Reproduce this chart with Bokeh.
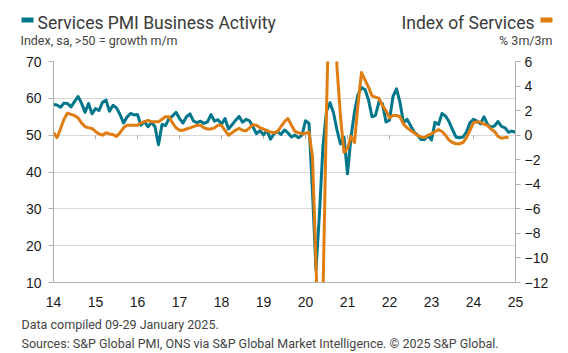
from bokeh.plotting import figure
from bokeh.models import Range1d, LinearAxis, Label, FixedTicker
from bokeh.layouts import column
from bokeh.embed import file_html
from bokeh.resources import INLINE

# Services PMI Business Activity (index), monthly Jan 2014 - Jan 2025
pmi = [
    58.3, 58.2, 57.6, 58.7, 58.6, 57.7, 59.1, 60.5, 58.7, 56.2, 58.6, 55.8,  # 2014
    57.2, 56.7, 58.9, 59.5, 56.5, 58.1, 57.4, 55.6, 53.3, 54.9, 55.9, 55.5,  # 2015
    55.6, 52.7, 53.7, 52.3, 53.5, 52.3, 47.4, 52.9, 52.6, 54.5, 55.2, 56.2,  # 2016
    54.5, 53.3, 55.0, 55.8, 53.8, 53.4, 53.8, 53.2, 53.6, 55.6, 53.8, 54.2,  # 2017
    53.0, 54.5, 51.7, 52.8, 54.0, 55.1, 53.5, 54.3, 53.9, 52.2, 50.4, 51.2,  # 2018
    50.1, 51.3, 48.9, 50.4, 51.0, 50.2, 51.4, 50.6, 49.5, 50.0, 49.3, 50.0,  # 2019
    53.9, 53.2, 34.5, 13.4, 29.0, 47.1, 56.5, 58.8, 56.1, 51.4, 47.6, 49.4,  # 2020
    39.5, 49.5, 56.3, 61.0, 62.9, 62.4, 59.6, 55.0, 55.4, 59.1, 58.5, 53.6,  # 2021
    54.1, 60.5, 62.6, 58.9, 53.4, 54.3, 52.6, 50.9, 50.0, 48.8, 48.8, 49.9,  # 2022
    48.7, 53.5, 52.9, 55.9, 55.2, 53.7, 51.5, 49.5, 49.3, 49.5, 50.9, 53.4,  # 2023
    54.3, 53.8, 53.1, 55.0, 52.9, 52.1, 52.5, 53.7, 52.4, 52.0, 50.8, 51.1,  # 2024
    50.8,                                                                    # 2025
]

# Index of Services, % 3m/3m, monthly Jan 2014 - Nov 2024
ios = [
    0.2, -0.2, 0.5, 1.3, 1.8, 1.7, 1.6, 1.4, 1.0, 0.7, 0.6, 0.55,         # 2014
    0.3, 0.1, 0.0, 0.2, 0.1, 0.05, -0.1, 0.2, 0.6, 0.8, 0.8, 0.8,         # 2015
    0.8, 1.0, 1.1, 1.2, 1.1, 1.1, 1.1, 1.3, 1.5, 1.5, 1.0, 0.6,           # 2016
    0.4, 0.4, 0.5, 0.6, 0.7, 0.8, 0.8, 0.6, 0.5, 0.5, 0.6, 0.8,           # 2017
    0.8, 0.4, 0.0, 0.2, 0.4, 0.55, 0.4, 0.35, 0.6, 0.85, 0.8, 0.6,        # 2018
    0.5, 0.35, 0.26, 0.2, 0.3, 0.7, 1.1, 1.35, 0.8, 0.3, 0.2, 0.1,        # 2019
    0.15, 0.25, -1.8, -10.5, -20.0, -13.0, 2.0, 14.0, 15.0, 5.5, 1.5, -1.4,  # 2020
    -1.1, -0.1, -0.6, 2.5, 5.1, 4.5, 3.9, 3.2, 3.1, 3.0, 2.4, 2.0,        # 2021
    1.4, 1.6, 1.6, 1.5, 0.9, 0.6, 0.4, 0.2, 0.0, -0.15, -0.2, 0.0,        # 2022
    0.1, 0.3, 0.45, 0.3, 0.0, -0.4, -0.6, -0.7, -0.7, -0.6, -0.2, 0.4,    # 2023
    1.0, 1.1, 1.05, 0.9, 0.8, 0.5, 0.3, -0.1, -0.25, -0.2, -0.2,          # 2024
]

year_ticks = list(range(14, 26))
left_ticks = [10, 20, 30, 40, 50, 60, 70]
right_ticks = [-12, -10, -8, -6, -4, -2, 0, 2, 4, 6]

x_pmi = [14 + i / 12 for i in range(len(pmi))]
x_ios = [14 + i / 12 for i in range(len(ios))]

TEAL = "#00768B"
ORANGE = "#E07D10"
GRID = "#D9D9D9"
AXIS = "#AFAFAF"
TXT = "#3A3A3A"
SUB = "#444444"

W = 568
HEAD_H = 50
FOOT_H = 40
MAIN_H = 353 - HEAD_H - FOOT_H


def text_panel(h):
    f = figure(width=W, height=h, output_backend="svg", toolbar_location=None,
               x_range=Range1d(0, W), y_range=Range1d(h, 0),
               min_border=0, min_border_left=0, min_border_right=0,
               min_border_top=0, min_border_bottom=0)
    f.frame_align = False
    f.axis.visible = False
    f.grid.visible = False
    f.outline_line_color = None
    f.background_fill_color = "white"
    f.border_fill_color = "white"
    return f


def lab(f, x, y, text, size, color=TXT, align="left", font="Roboto"):
    f.add_layout(Label(x=x, y=y, text=text, text_font=font,
                       text_font_size=size, text_color=color,
                       text_align=align, text_baseline="middle"))


# header
head = text_panel(HEAD_H)
head.rect(x=[27, 546], y=[19.5, 19.5], width=12, height=5,
          fill_color=[TEAL, ORANGE], line_color=None)
lab(head, 37, 22, "Services PMI Business Activity", "17.5px")
lab(head, 20, 39.5, "Index, sa, >50 = growth m/m", "12.5px", color=SUB)
lab(head, 534, 22, "Index of Services", "17.5px", align="right")
lab(head, 552, 39.5, "% 3m/3m", "12.5px", color=SUB, align="right")

# main chart
p = figure(width=W, height=MAIN_H, output_backend="svg", toolbar_location=None,
           x_range=Range1d(14, 25), y_range=Range1d(10, 70),
           min_border_left=53, min_border_right=53, min_border_top=61 - HEAD_H,
           min_border_bottom=71 - FOOT_H)
p.frame_align = False
p.outline_line_color = None
p.background_fill_color = "white"
p.border_fill_color = "white"
p.extra_y_ranges = {"ios": Range1d(-12, 6)}

p.xaxis.ticker = FixedTicker(ticks=year_ticks)
p.xaxis.axis_line_color = AXIS
p.xaxis.major_tick_line_color = None
p.xaxis.minor_tick_line_color = None
p.xaxis.major_label_standoff = 8
p.xaxis.major_label_text_font = "Liberation Sans"
p.xaxis.major_label_text_font_size = "14px"
p.xaxis.major_label_text_color = "#1a1a1a"

p.yaxis.ticker = FixedTicker(ticks=left_ticks)
p.yaxis.axis_line_color = AXIS
p.yaxis.major_tick_line_color = AXIS
p.yaxis.major_tick_out = 5
p.yaxis.major_tick_in = 0
p.yaxis.minor_tick_line_color = None
p.yaxis.major_label_standoff = 7
p.yaxis.major_label_text_font = "Liberation Sans"
p.yaxis.major_label_text_font_size = "14px"
p.yaxis.major_label_text_color = "#1a1a1a"

ax_r = LinearAxis(y_range_name="ios", ticker=FixedTicker(ticks=right_ticks))
ax_r.axis_line_color = AXIS
ax_r.major_tick_line_color = AXIS
ax_r.major_tick_out = 5
ax_r.major_tick_in = 0
ax_r.minor_tick_line_color = None
ax_r.major_label_standoff = 4
ax_r.major_label_text_font = "Liberation Sans"
ax_r.major_label_text_font_size = "14px"
ax_r.major_label_text_color = "#1a1a1a"
ax_r.major_label_text_align = "left"
p.add_layout(ax_r, "right")

p.xgrid.grid_line_color = None
p.ygrid.ticker = FixedTicker(ticks=left_ticks)
p.ygrid.grid_line_color = GRID
p.ygrid.grid_line_width = 1

# x tick marks drawn on the 50 line
p.segment(x0=year_ticks, x1=year_ticks, y0=[50] * len(year_ticks),
          y1=[48.9] * len(year_ticks), line_color=AXIS, line_width=1)

p.line(x_pmi, pmi, line_color=TEAL, line_width=3, line_join="round")
p.line(x_ios, ios, line_color=ORANGE, line_width=3, line_join="round",
       y_range_name="ios")

# footer
foot = text_panel(FOOT_H)
lab(foot, 21, 324 - 313, "Data compiled 09-29 January 2025.", "12.5px", color=SUB)
lab(foot, 21, 343 - 313,
    "Sources: S&P Global PMI, ONS via S&P Global Market Intelligence. \u00A9 2025 S&P Global.",
    "12.5px", color=SUB)

layout = column(head, p, foot, spacing=0)
open("out.html", "w").write(file_html(layout, INLINE))
